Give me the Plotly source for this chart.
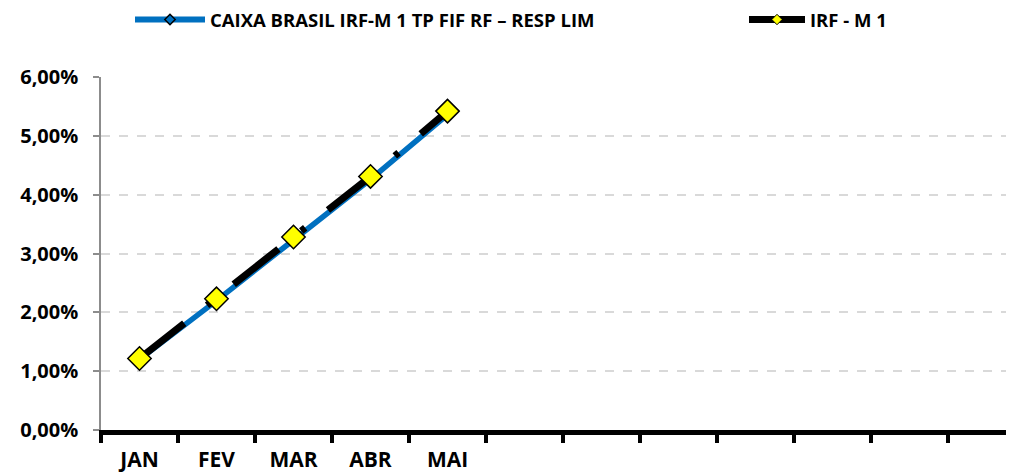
import plotly.graph_objects as go

months = ["JAN", "FEV", "MAR", "ABR", "MAI"]
n_slots = 12
caixa = [1.20, 2.20, 3.23, 4.26, 5.36]
irfm1 = [1.215, 2.23, 3.28, 4.31, 5.42]
name_caixa = "CAIXA BRASIL IRF-M 1 TP FIF RF \u2013 RESP LIM"
name_irf = "IRF - M 1"
y_ticks = [0, 1, 2, 3, 4, 5, 6]
y_ticktext = ["0,00%", "1,00%", "2,00%", "3,00%", "4,00%", "5,00%", "6,00%"]

cats = months + [" " * (i + 1) for i in range(n_slots - len(months))]

FONT = "Open Sans"
OFF = 8  # page body margin
W, H = 1014 - OFF, 473 - OFF

fig = go.Figure()

fig.add_trace(go.Scatter(x=months, y=caixa, mode="lines", showlegend=False,
                         line=dict(color="#0070C0", width=5.5)))
fig.add_trace(go.Scatter(x=months, y=irfm1, mode="lines+markers", showlegend=False,
                         line=dict(color="black", width=7, dash="57px,29px,5px,29px"),
                         marker=dict(symbol="diamond", size=18, color="#FFFF00",
                                     line=dict(color="black", width=1.5))))
fig.add_trace(go.Scatter(x=[None], y=[None], mode="lines+markers", name=name_caixa,
                         legend="legend",
                         line=dict(color="#0070C0", width=6),
                         marker=dict(symbol="diamond", size=8, color="#0070C0",
                                     line=dict(color="black", width=1.5))))
fig.add_trace(go.Scatter(x=[None], y=[None], mode="lines+markers", name=name_irf,
                         legend="legend2",
                         line=dict(color="black", width=7),
                         marker=dict(symbol="diamond", size=8, color="#FFFF00",
                                     line=dict(color="black", width=1))))

leg_common = dict(orientation="h", xref="container", yref="container",
                  xanchor="left", yanchor="middle", y=1 - (20 - OFF) / H,
                  font=dict(family=FONT, size=18.5, weight="bold"),
                  bgcolor="rgba(0,0,0,0)")

fig.update_layout(
    width=W, height=H,
    margin=dict(l=101 - OFF, r=0, t=77 - OFF, b=473 - 430, autoexpand=False),
    paper_bgcolor="white", plot_bgcolor="white",
    font=dict(family=FONT, color="black"),
    legend=dict(leg_common, x=(130 - OFF) / W, itemwidth=70),
    legend2=dict(leg_common, x=(744 - OFF) / W, itemwidth=56),
    xaxis=dict(type="category", categoryorder="array", categoryarray=cats,
               range=[-0.5, 11.357], tickson="boundaries",
               ticks="outside", ticklen=8, tickwidth=4, tickcolor="black",
               showline=True, linecolor="black", linewidth=5,
               showgrid=False, zeroline=False, ticklabelstandoff=7,
               tickfont=dict(family=FONT, size=21, weight="bold")),
    yaxis=dict(range=[0, 6], tickvals=y_ticks, ticktext=y_ticktext,
               ticks="outside", ticklen=6, tickwidth=1.5, tickcolor="#8c8c8c",
               showline=True, linecolor="#8c8c8c", linewidth=1.5,
               showgrid=True, gridcolor="#d9d9d9", gridwidth=1.5, griddash="dash",
               zeroline=False, ticklabelstandoff=11,
               tickfont=dict(family=FONT, size=20, weight="bold")),
)

fig.write_html("out.html")
